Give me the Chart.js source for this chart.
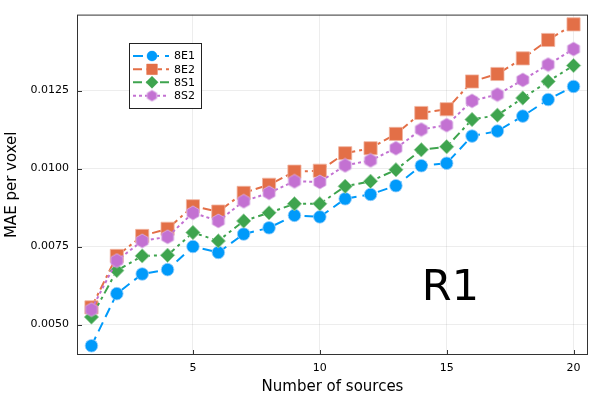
<!DOCTYPE html>
<html>
<head>
<meta charset="utf-8">
<script src="https://cdn.jsdelivr.net/npm/chart.js@4/dist/chart.umd.min.js"></script>
<style>
  html, body { margin: 0; padding: 0; background: #fff; }
  #wrap { width: 600px; height: 400px; }
</style>
</head>
<body>
<div id="wrap"><canvas id="chart" width="600" height="400"></canvas></div>
<script>
// values
const sources = [1, 2, 3, 4, 5, 6, 7, 8, 9, 10, 11, 12, 13, 14, 15, 16, 17, 18, 19, 20];
const mae8E1 = [0.00432, 0.00599, 0.00662, 0.00676, 0.00750, 0.00731, 0.00790, 0.00810, 0.00850, 0.00845,
                0.00903, 0.00917, 0.00945, 0.01009, 0.01017, 0.01104, 0.01120, 0.01168, 0.01221, 0.01263];
const mae8E2 = [0.00555, 0.00720, 0.00784, 0.00807, 0.00879, 0.00862, 0.00922, 0.00948, 0.00990, 0.00993,
                0.01049, 0.01065, 0.01111, 0.01178, 0.01190, 0.01279, 0.01303, 0.01353, 0.01412, 0.01462];
const mae8S1 = [0.00524, 0.00673, 0.00720, 0.00722, 0.00795, 0.00768, 0.00832, 0.00858, 0.00887, 0.00887,
                0.00943, 0.00959, 0.00996, 0.01060, 0.01070, 0.01157, 0.01171, 0.01226, 0.01279, 0.01330];
const mae8S2 = [0.00548, 0.00705, 0.00768, 0.00781, 0.00858, 0.00832, 0.00895, 0.00922, 0.00959, 0.00957,
                0.01010, 0.01026, 0.01065, 0.01125, 0.01139, 0.01217, 0.01237, 0.01284, 0.01333, 0.01383];
const seriesNames = ['8E1', '8E2', '8S1', '8S2'];
const xTicks = [5, 10, 15, 20];
const yTicks = [0.0050, 0.0075, 0.0100, 0.0125];
const yTickLabels = ['0.0050', '0.0075', '0.0100', '0.0125'];
const panelLabel = 'R1';

const FONT = '"DejaVu Sans", sans-serif';
const colors = ['#009AFA', '#E36F47', '#3EA44E', '#C371D2'];
const edges = ['rgba(150,205,250,0.8)', 'rgba(240,180,160,0.8)', 'rgba(160,210,165,0.8)', 'rgba(220,180,230,0.8)'];
const dashes = [[10, 6], [9, 4, 3, 4], [9, 4, 3, 4, 3, 4], [3, 3]];

function hexagonCanvas(r, fill, edge) {
  const c = document.createElement('canvas');
  c.width = c.height = Math.ceil(2 * r + 2);
  const g = c.getContext('2d');
  const cx = c.width / 2;
  g.beginPath();
  for (let i = 0; i < 6; i++) {
    const a = Math.PI / 2 + i * Math.PI / 3;
    const px = cx + r * Math.cos(a), py = cx + r * Math.sin(a);
    if (i === 0) g.moveTo(px, py); else g.lineTo(px, py);
  }
  g.closePath();
  g.fillStyle = fill;
  g.fill();
  g.strokeStyle = edge;
  g.lineWidth = 1;
  g.stroke();
  return c;
}

const allSeries = [mae8E1, mae8E2, mae8S1, mae8S2];
const styles = ['circle', 'rect', 'rectRot', hexagonCanvas(7, colors[3], edges[3])];
const radii = [6.3, 9.3, 7.2, 7];

const datasets = allSeries.map((vals, i) => ({
  label: seriesNames[i],
  data: sources.map((x, k) => ({ x: x, y: vals[k] })),
  showLine: true,
  borderColor: colors[i],
  borderWidth: 2,
  borderDash: dashes[i],
  backgroundColor: colors[i],
  pointBackgroundColor: colors[i],
  pointBorderColor: edges[i],
  pointBorderWidth: 1,
  pointStyle: styles[i],
  pointRadius: radii[i],
  pointHoverRadius: radii[i],
  order: 4 - i
}));

// frame, inward ticks, legend box and the panel label
const decorations = {
  id: 'decorations',
  afterDraw(chart) {
    const ctx = chart.ctx;
    const a = chart.chartArea;
    const xs = chart.scales.x, ys = chart.scales.y;
    ctx.save();
    ctx.strokeStyle = '#333';
    ctx.lineWidth = 1;
    ctx.setLineDash([]);
    ctx.strokeRect(a.left + 0.5, a.top + 0.5, a.right - a.left - 1, a.bottom - a.top - 1);
    ctx.beginPath();
    xTicks.forEach(t => {
      const px = Math.round(xs.getPixelForValue(t)) + 0.5;
      ctx.moveTo(px, a.bottom); ctx.lineTo(px, a.bottom - 5);
    });
    yTicks.forEach(t => {
      const py = Math.round(ys.getPixelForValue(t)) + 0.5;
      ctx.moveTo(a.left, py); ctx.lineTo(a.left + 5, py);
    });
    ctx.stroke();

    // legend
    const lx = 129, ly = 43, lw = 72, lh = 65;
    ctx.fillStyle = '#fff';
    ctx.fillRect(lx, ly, lw, lh);
    ctx.strokeStyle = '#222';
    ctx.strokeRect(lx + 0.5, ly + 0.5, lw, lh);
    const rowY = [56, 69.3, 82.3, 95.7];
    const legendR = [5, 7.5, 6, 5.5];
    seriesNames.forEach((name, i) => {
      const y = rowY[i];
      ctx.strokeStyle = colors[i];
      ctx.lineWidth = 2;
      ctx.setLineDash(dashes[i]);
      ctx.beginPath();
      ctx.moveTo(133, y); ctx.lineTo(169, y);
      ctx.stroke();
      ctx.setLineDash([]);
      ctx.fillStyle = colors[i];
      ctx.strokeStyle = edges[i];
      ctx.lineWidth = 1;
      if (i === 3) {
        const c = hexagonCanvas(legendR[i], colors[i], edges[i]);
        ctx.drawImage(c, 152 - c.width / 2, y - c.height / 2);
      } else {
        Chart.helpers.drawPoint(ctx, { pointStyle: styles[i], radius: legendR[i], rotation: 0, borderWidth: 1 }, 152, y);
        ctx.fill();
      }
      ctx.fillStyle = '#000';
      ctx.font = '11px ' + FONT;
      ctx.textAlign = 'left';
      ctx.textBaseline = 'middle';
      ctx.fillText(name, 174, y + 0.5);
    });

    // panel label
    ctx.fillStyle = '#000';
    ctx.font = '43px ' + FONT;
    ctx.textAlign = 'center';
    ctx.textBaseline = 'middle';
    ctx.fillText(panelLabel, xs.getPixelForValue(15.15), ys.getPixelForValue(0.00615));
    ctx.restore();
  }
};

new Chart(document.getElementById('chart').getContext('2d'), {
  type: 'scatter',
  data: { datasets: datasets },
  options: {
    responsive: false,
    animation: false,
    devicePixelRatio: 1,
    layout: { padding: { top: 12, right: 12, left: 0, bottom: 0 } },
    plugins: {
      legend: { display: false },
      tooltip: { enabled: false }
    },
    scales: {
      x: {
        type: 'linear',
        min: 0.43,
        max: 20.57,
        afterFit(scale) { scale.height = 45; },
        afterBuildTicks(scale) { scale.ticks = xTicks.map(v => ({ value: v })); },
        grid: { color: 'rgba(0,0,0,0.07)', lineWidth: 1, drawTicks: false },
        border: { display: false },
        ticks: { padding: 7, color: '#000', font: { family: FONT, size: 11 }, maxRotation: 0, callback: v => String(v) },
        title: { display: true, text: 'Number of sources', color: '#000', font: { family: FONT, size: 15 }, padding: { top: 2, bottom: 4 } }
      },
      y: {
        type: 'linear',
        min: 0.004024,
        max: 0.014933,
        afterFit(scale) { scale.width = 77; },
        afterBuildTicks(scale) { scale.ticks = yTicks.map(v => ({ value: v })); },
        grid: { color: 'rgba(0,0,0,0.07)', lineWidth: 1, drawTicks: false },
        border: { display: false },
        ticks: {
          padding: 8, color: '#000', font: { family: FONT, size: 11 },
          callback: v => yTickLabels[yTicks.findIndex(t => Math.abs(t - v) < 1e-9)]
        },
        title: { display: true, text: 'MAE per voxel', color: '#000', font: { family: FONT, size: 15 }, padding: { top: 3, bottom: 2 } }
      }
    }
  },
  plugins: [decorations]
});
</script>
</body>
</html>
